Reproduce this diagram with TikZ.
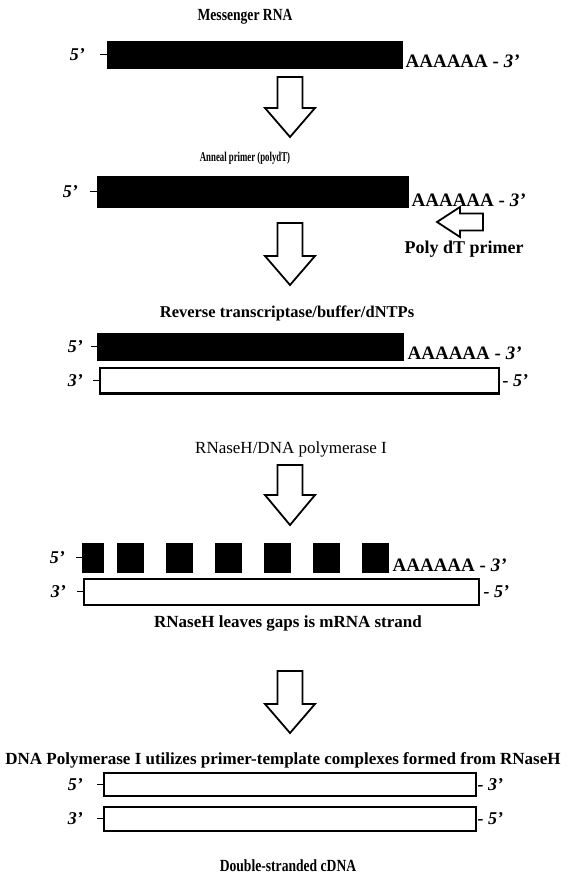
\documentclass[tikz,border=0pt]{standalone}
\usepackage{fontspec}
\setmainfont{Liberation Serif}
\usetikzlibrary{positioning}
\newcommand{\setfs}[1]{\fontsize{#1}{#1}\selectfont}
\newcommand{\narrow}[2]{\scalebox{#1}[1]{#2}}

\begin{document}
\begin{tikzpicture}[x=1pt,y=-1pt,line join=miter]
  \tikzstyle{rna}=[fill=black, draw=black, inner sep=0pt, anchor=north west]
  \tikzstyle{dna}=[fill=white, draw=black, line width=1.5pt, inner sep=0pt, anchor=north west]
  \tikzstyle{hollow}=[draw=black, fill=white, line width=1.8pt]
  \tikzstyle{tick}=[line width=1.3pt]
  \tikzstyle{prime}=[font=\setfs{18}\bfseries\itshape, inner sep=0pt]
  \tikzstyle{tail}=[font=\setfs{19}\bfseries, inner sep=0pt, anchor=base west]
  \tikzstyle{title}=[inner sep=0pt, anchor=base]

  \useasboundingbox (0,0) rectangle (567,878);

  % messenger RNA
  \node[title, font=\setfs{17}\bfseries] (t1) at (245,20) {\narrow{0.8}{Messenger RNA}};
  \node[rna, minimum width=295, minimum height=27] (bar1) at (107,41) {};
  \node[prime, left=22pt of bar1] (l1) {5'};
  \draw[tick] (bar1.west) -- ++(-7,0);
  \node[tail] (a1) at ([xshift=3pt,yshift=1pt]bar1.south east) {AAAAAA - {\itshape 3'}};

  % annealed primer
  \node[title, font=\setfs{13.5}\bfseries] (t2) at (245,161) {\narrow{0.65}{Anneal primer (polydT)}};
  \node[rna, minimum width=311, minimum height=31] (bar2) at (97,176) {};
  \node[prime, left=19pt of bar2] (l2) {5'};
  \draw[tick] (bar2.west) -- ++(-7,0);
  \node[tail] (a2) at ([xshift=3pt,yshift=1pt]bar2.south east) {AAAAAA - {\itshape 3'}};
  \draw[hollow] (483,213.5) -- (460,213.5) -- (460,207) -- (437,222) -- (460,237)
    -- (460,230.5) -- (483,230.5) -- cycle;
  \node[title, font=\setfs{18}\bfseries] (pdt) at (464,253) {Poly dT primer};

  % first strand
  \node[title, font=\setfs{16.5}\bfseries] (t3) at (287,317) {Reverse transcriptase/buffer/dNTPs};
  \node[rna, minimum width=306, minimum height=27] (bar3) at (97,333) {};
  \node[prime, left=14pt of bar3] (l3) {5'};
  \draw[tick] (bar3.west) -- ++(-6,0);
  \node[tail] (a3) at ([xshift=4pt,yshift=1pt]bar3.south east) {AAAAAA - {\itshape 3'}};
  \node[dna, minimum width=399, minimum height=25] (box3) at (99,367) {};
  \draw[line width=2.6pt] (box3.south west) -- (box3.south east);
  \node[prime, left=16pt of box3] (m3) {3'};
  \draw[tick] (box3.west) -- ++(-6,0);
  \node[prime, right=3pt of box3] (r3) {- 5'};

  % RNaseH nicks
  \node[title, font=\setfs{17}] (t4) at (291,453) {RNaseH/DNA polymerase I};
  \node[rna, minimum width=21, minimum height=29] (sq1) at (82,543) {};
  \foreach \i in {2,...,7}
    \node[rna, minimum width=26, minimum height=29] (sq\i) at ({117+49*(\i-2)},543) {};
  \node[prime, left=17pt of sq1] (l4) {5'};
  \draw[tick] (sq1.west) -- ++(-6,0);
  \node[tail] (a4) at ([xshift=4pt,yshift=1pt]sq7.south east) {AAAAAA - {\itshape 3'}};
  \node[dna, minimum width=395, minimum height=26] (box4) at (83,578) {};
  \node[prime, left=17pt of box4] (m4) {3'};
  \draw[tick] (box4.west) -- ++(-6,0);
  \node[prime, right=4pt of box4] (r4) {- 5'};
  \node[title, font=\setfs{17}\bfseries] (t5) at (288,627) {RNaseH leaves gaps is mRNA strand};

  % big arrows
  \foreach \ya/\yb/\yc in {77/108/137, 223/256/285, 465/495/525, 671/704/733}
    \draw[hollow] (277.5,\ya) -- (302.5,\ya) -- (302.5,\yb) -- (315,\yb) -- (290,\yc)
      -- (265,\yb) -- (277.5,\yb) -- cycle;

  % second strand
  \node[title, font=\setfs{17}\bfseries] (t6) at (283,764) {DNA Polymerase I utilizes primer-template complexes formed from RNaseH};
  \node[dna, minimum width=372, minimum height=23] (box5) at (103,772) {};
  \node[prime, left=20pt of box5] (l5) {5'};
  \draw[tick] (box5.west) -- ++(-6,0);
  \node[prime, right=1pt of box5] (r5) {- 3'};
  \node[dna, minimum width=372, minimum height=24] (box6) at (103,806) {};
  \node[prime, left=20pt of box6] (l6) {3'};
  \draw[tick] (box6.west) -- ++(-6,0);
  \node[prime, right=1pt of box6] (r6) {- 5'};
  \node[title, font=\setfs{17}\bfseries] (t7) at (288,871) {\narrow{0.8}{Double-stranded cDNA}};
\end{tikzpicture}
\end{document}
